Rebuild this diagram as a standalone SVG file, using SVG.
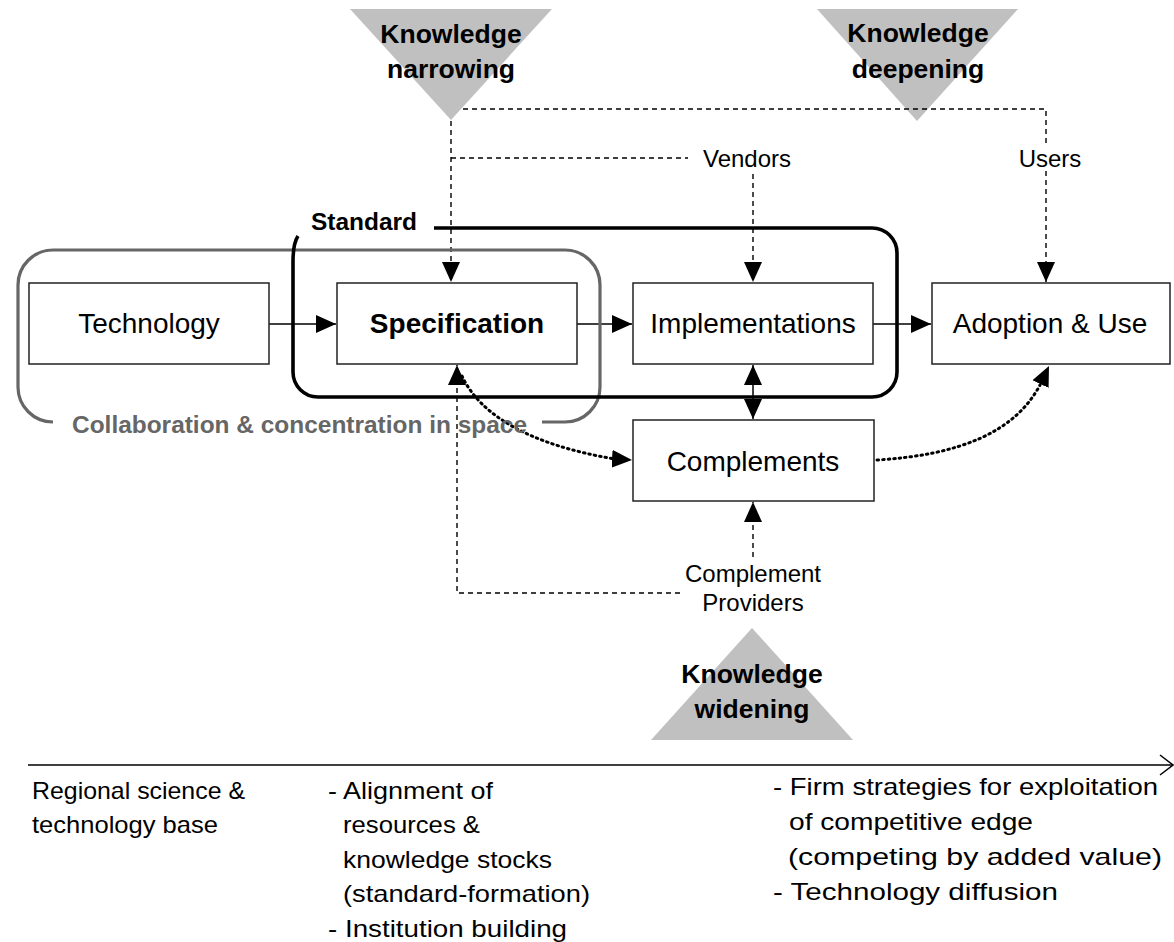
<svg xmlns="http://www.w3.org/2000/svg" width="1174" height="942" viewBox="0 0 1174 942">
<style>
.box{fill:#fff;stroke:#222;stroke-width:1.5}
.t{font-family:"Liberation Sans",Arial,sans-serif;font-size:28px;fill:#000;text-anchor:middle}
.tb{font-weight:bold}
.k{font-family:"Liberation Sans",Arial,sans-serif;font-size:26.5px;font-weight:bold;fill:#000;text-anchor:middle}
.s{font-family:"Liberation Sans",Arial,sans-serif;font-size:24px;fill:#000;text-anchor:middle}
.b{font-family:"Liberation Sans",Arial,sans-serif;font-size:24px;fill:#000}
.tri{fill:#c0c0c0}
.solid{fill:none;stroke:#000;stroke-width:1.5}
.dash{fill:none;stroke:#000;stroke-width:1.4;stroke-dasharray:5 4}
.dot{fill:none;stroke:#000;stroke-width:3;stroke-dasharray:1.5 4;stroke-linecap:round}
</style>
<defs>
<marker id="ah" markerUnits="userSpaceOnUse" markerWidth="20" markerHeight="18" refX="20" refY="9" orient="auto-start-reverse"><path d="M0,0 L20,9 L0,18 z" fill="#000"/></marker>
</defs>

<g id="triangles">
<polygon class="tri" points="350,9 552,9 451,120"/>
<polygon class="tri" points="817,9 1018,9 917,121"/>
<polygon class="tri" points="651,740 853,740 752,628"/>
</g>

<g id="connectors">
<path class="dash" d="M451,121 L451,282" marker-end="url(#ah)"/>
<path class="dash" d="M451,158 L688,158"/>
<path class="dash" d="M753,174 L753,282" marker-end="url(#ah)"/>
<path class="dash" d="M463,109 L1046,109 L1046,147"/>
<path class="dash" d="M1046,171 L1046,282" marker-end="url(#ah)"/>
<path class="dash" d="M753,557 L753,502" marker-end="url(#ah)"/>
<path class="dash" d="M680,593 L457,593 L457,365" marker-end="url(#ah)"/>
<path class="solid" d="M269,324 L336,324" marker-end="url(#ah)"/>
<path class="solid" d="M577,324 L632,324" marker-end="url(#ah)"/>
<path class="solid" d="M873,324 L931,324" marker-end="url(#ah)"/>
<path class="solid" d="M753,365 L753,419" marker-start="url(#ah)" marker-end="url(#ah)"/>
<path class="dot" d="M462,376 C480,415 530,445 615,459"/>
<path class="solid" d="M615,459 L632,460" marker-end="url(#ah)" stroke-opacity="0"/>
<path class="dot" d="M877,460 C960,455 1015,432 1040,385"/>
<path class="solid" d="M1040,385 L1049,366" marker-end="url(#ah)" stroke-opacity="0"/>
<path class="solid" d="M28,765 L1172,765"/>
<path class="solid" d="M1160,755 L1173,765 L1160,775" stroke-width="1.2"/>
</g>

<g id="collaboration">
<path d="M542,422 L565,422 A35,35 0 0 0 600,387 L600,285 A35,35 0 0 0 565,250 L53,250 A35,35 0 0 0 18,285 L18,387 A35,35 0 0 0 53,422" fill="none" stroke="#666" stroke-width="3.2"/>
<text x="72" y="433" font-family="Liberation Sans, Arial, sans-serif" font-size="24" font-weight="bold" fill="#666" textLength="455" lengthAdjust="spacingAndGlyphs">Collaboration &amp; concentration in space</text>
</g>

<g id="standard">
<path d="M298,236 C294,242 293,250 293,262 L293,372 A25,25 0 0 0 318,397 L872,397 A25,25 0 0 0 897,372 L897,253 A25,25 0 0 0 872,228 L434,228" fill="none" stroke="#000" stroke-width="3.6"/>
<text x="311" y="230" font-family="Liberation Sans, Arial, sans-serif" font-size="24" font-weight="bold" fill="#000" textLength="106" lengthAdjust="spacingAndGlyphs">Standard</text>
</g>

<g id="technology">
<rect class="box" x="29" y="283" width="240" height="81"/>
<text class="t" x="149" y="333">Technology</text>
</g>
<g id="specification">
<rect class="box" x="337" y="283" width="240" height="81"/>
<text class="t tb" x="457" y="333">Specification</text>
</g>
<g id="implementations">
<rect class="box" x="633" y="283" width="240" height="81"/>
<text class="t" x="753" y="333">Implementations</text>
</g>
<g id="adoption">
<rect class="box" x="932" y="283" width="238" height="81"/>
<text class="t" x="1050" y="333">Adoption &amp; Use</text>
</g>
<g id="complements">
<rect class="box" x="633" y="420" width="241" height="81"/>
<text class="t" x="753" y="471">Complements</text>
</g>

<g id="knowledge-narrowing">
<text class="k" x="451" y="43">Knowledge</text>
<text class="k" x="451" y="78">narrowing</text>
</g>
<g id="knowledge-deepening">
<text class="k" x="918" y="42">Knowledge</text>
<text class="k" x="918" y="78">deepening</text>
</g>
<g id="knowledge-widening">
<text class="k" x="752" y="683">Knowledge</text>
<text class="k" x="752" y="718">widening</text>
</g>

<g id="actors">
<text class="s" x="747" y="167">Vendors</text>
<text class="s" x="1050" y="167">Users</text>
<text class="s" x="753" y="582">Complement</text>
<text class="s" x="753" y="611">Providers</text>
</g>

<g id="timeline-text">
<text class="b" x="32" y="799" textLength="213" lengthAdjust="spacingAndGlyphs">Regional science &amp;</text>
<text class="b" x="32" y="833" textLength="186" lengthAdjust="spacingAndGlyphs">technology base</text>
<text class="b" x="328" y="799" textLength="165" lengthAdjust="spacingAndGlyphs">- Alignment of</text>
<text class="b" x="343" y="833" textLength="137" lengthAdjust="spacingAndGlyphs">resources &amp;</text>
<text class="b" x="343" y="868" textLength="209" lengthAdjust="spacingAndGlyphs">knowledge stocks</text>
<text class="b" x="343" y="902" textLength="247" lengthAdjust="spacingAndGlyphs">(standard-formation)</text>
<text class="b" x="328" y="937" textLength="239" lengthAdjust="spacingAndGlyphs">- Institution building</text>
<text class="b" x="773" y="795" textLength="385" lengthAdjust="spacingAndGlyphs">- Firm strategies for exploitation</text>
<text class="b" x="789" y="830" textLength="244" lengthAdjust="spacingAndGlyphs">of competitive edge</text>
<text class="b" x="788" y="865" textLength="374" lengthAdjust="spacingAndGlyphs">(competing by added value)</text>
<text class="b" x="773" y="900" textLength="285" lengthAdjust="spacingAndGlyphs">- Technology diffusion</text>
</g>
</svg>
